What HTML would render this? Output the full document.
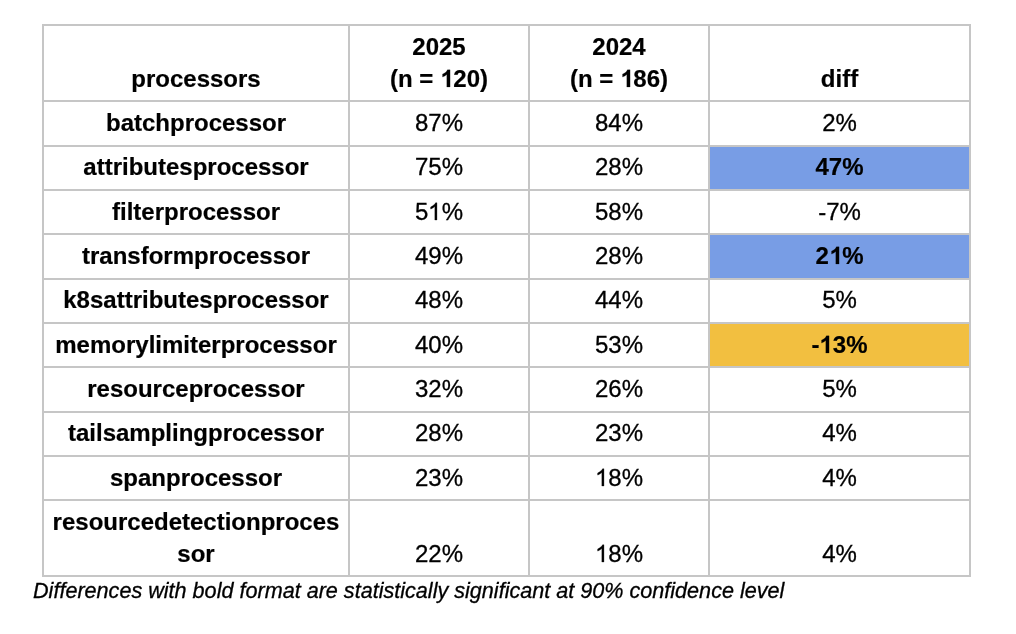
<!DOCTYPE html>
<html><head><meta charset="utf-8"><style>
html,body{margin:0;padding:0;background:#fff;}
body{will-change:transform;width:1016px;height:634px;position:relative;overflow:hidden;font-family:"Liberation Sans",sans-serif;color:#000;}
.t{position:absolute;height:32px;line-height:32px;font-size:24px;text-align:center;white-space:nowrap;}
.hl{position:absolute;left:42px;width:929px;height:2px;background:#c6c6c6;}
.vl{position:absolute;top:24px;height:553px;width:2px;background:#c6c6c6;}
.bg{position:absolute;}
.t,.fn{-webkit-text-stroke:0.3px #000;}
.b{-webkit-text-stroke:0.2px #000;}
.one{color:transparent;-webkit-text-stroke-color:transparent;}
.g1{position:absolute;overflow:visible;}
.fn{position:absolute;font-size:21.6px;line-height:26px;height:26px;font-style:italic;white-space:nowrap;}
</style></head><body>
<div class="bg" style="left:710px;top:147px;width:259px;height:42px;background:#789de5"></div>
<div class="bg" style="left:710px;top:235px;width:259px;height:43px;background:#789de5"></div>
<div class="bg" style="left:710px;top:324px;width:259px;height:42px;background:#f2bf40"></div>
<div class="hl" style="top:24px"></div>
<div class="hl" style="top:100px"></div>
<div class="hl" style="top:145px"></div>
<div class="hl" style="top:189px"></div>
<div class="hl" style="top:233px"></div>
<div class="hl" style="top:278px"></div>
<div class="hl" style="top:322px"></div>
<div class="hl" style="top:366px"></div>
<div class="hl" style="top:411px"></div>
<div class="hl" style="top:455px"></div>
<div class="hl" style="top:499px"></div>
<div class="hl" style="top:575px"></div>
<div class="vl" style="left:42px"></div>
<div class="vl" style="left:348px"></div>
<div class="vl" style="left:528px"></div>
<div class="vl" style="left:708px"></div>
<div class="vl" style="left:969px"></div>
<div class="t b" style="left:44px;width:304px;top:63px;font-weight:bold;">processors</div>
<div class="t b" style="left:350px;width:178px;top:31px;font-weight:bold;">2025</div>
<div class="t b" style="left:350px;width:178px;top:63px;font-weight:bold;">(n = <span class="one">1</span>20)</div>
<div class="t b" style="left:530px;width:178px;top:31px;font-weight:bold;">2024</div>
<div class="t b" style="left:530px;width:178px;top:63px;font-weight:bold;">(n = <span class="one">1</span>86)</div>
<div class="t b" style="left:710px;width:259px;top:63px;font-weight:bold;">diff</div>
<div class="t b" style="left:44px;width:304px;top:107px;font-weight:bold;">batchprocessor</div>
<div class="t" style="left:350px;width:178px;top:107px;">87%</div>
<div class="t" style="left:530px;width:178px;top:107px;">84%</div>
<div class="t" style="left:710px;width:259px;top:107px;">2%</div>
<div class="t b" style="left:44px;width:304px;top:151px;font-weight:bold;">attributesprocessor</div>
<div class="t" style="left:350px;width:178px;top:151px;">75%</div>
<div class="t" style="left:530px;width:178px;top:151px;">28%</div>
<div class="t b" style="left:710px;width:259px;top:151px;font-weight:bold;">47%</div>
<div class="t b" style="left:44px;width:304px;top:196px;font-weight:bold;">filterprocessor</div>
<div class="t" style="left:350px;width:178px;top:196px;">5<span class="one">1</span>%</div>
<div class="t" style="left:530px;width:178px;top:196px;">58%</div>
<div class="t" style="left:710px;width:259px;top:196px;">-7%</div>
<div class="t b" style="left:44px;width:304px;top:240px;font-weight:bold;">transformprocessor</div>
<div class="t" style="left:350px;width:178px;top:240px;">49%</div>
<div class="t" style="left:530px;width:178px;top:240px;">28%</div>
<div class="t b" style="left:710px;width:259px;top:240px;font-weight:bold;">2<span class="one">1</span>%</div>
<div class="t b" style="left:44px;width:304px;top:284px;font-weight:bold;">k8sattributesprocessor</div>
<div class="t" style="left:350px;width:178px;top:284px;">48%</div>
<div class="t" style="left:530px;width:178px;top:284px;">44%</div>
<div class="t" style="left:710px;width:259px;top:284px;">5%</div>
<div class="t b" style="left:44px;width:304px;top:329px;font-weight:bold;">memorylimiterprocessor</div>
<div class="t" style="left:350px;width:178px;top:329px;">40%</div>
<div class="t" style="left:530px;width:178px;top:329px;">53%</div>
<div class="t b" style="left:710px;width:259px;top:329px;font-weight:bold;">-<span class="one">1</span>3%</div>
<div class="t b" style="left:44px;width:304px;top:373px;font-weight:bold;">resourceprocessor</div>
<div class="t" style="left:350px;width:178px;top:373px;">32%</div>
<div class="t" style="left:530px;width:178px;top:373px;">26%</div>
<div class="t" style="left:710px;width:259px;top:373px;">5%</div>
<div class="t b" style="left:44px;width:304px;top:417px;font-weight:bold;">tailsamplingprocessor</div>
<div class="t" style="left:350px;width:178px;top:417px;">28%</div>
<div class="t" style="left:530px;width:178px;top:417px;">23%</div>
<div class="t" style="left:710px;width:259px;top:417px;">4%</div>
<div class="t b" style="left:44px;width:304px;top:462px;font-weight:bold;">spanprocessor</div>
<div class="t" style="left:350px;width:178px;top:462px;">23%</div>
<div class="t" style="left:530px;width:178px;top:462px;"><span class="one">1</span>8%</div>
<div class="t" style="left:710px;width:259px;top:462px;">4%</div>
<div class="t b" style="left:44px;width:304px;top:506px;font-weight:bold;">resourcedetectionproces</div>
<div class="t b" style="left:44px;width:304px;top:538px;font-weight:bold;">sor</div>
<div class="t" style="left:350px;width:178px;top:538px;">22%</div>
<div class="t" style="left:530px;width:178px;top:538px;"><span class="one">1</span>8%</div>
<div class="t" style="left:710px;width:259px;top:538px;">4%</div>
<div class="fn" style="left:33px;top:578px;">Differences with bold format are statistically significant at 90% confidence level</div>
<svg class="g1" style="left:439.9844px;top:67px" width="16" height="24" viewBox="0 -1706.67 1365.33 2048.00"><path transform="scale(1,-1)" d="M861 0L580 0L580 1059Q426 915 217 846L217 1101Q327 1137 456 1237Q585 1337 633 1466L861 1466Z" fill="#000" stroke="#000" stroke-width="17.1"/></svg>
<svg class="g1" style="left:619.9844px;top:67px" width="16" height="24" viewBox="0 -1706.67 1365.33 2048.00"><path transform="scale(1,-1)" d="M861 0L580 0L580 1059Q426 915 217 846L217 1101Q327 1137 456 1237Q585 1337 633 1466L861 1466Z" fill="#000" stroke="#000" stroke-width="17.1"/></svg>
<svg class="g1" style="left:428.3281px;top:200px" width="16" height="24" viewBox="0 -1706.67 1365.33 2048.00"><path transform="scale(1,-1)" d="M763 0L583 0L583 1147Q518 1085 412 1023Q306 961 222 930L222 1104Q373 1175 486 1276Q599 1377 646 1472L763 1472Z" fill="#000" stroke="#000" stroke-width="25.6"/></svg>
<svg class="g1" style="left:828.8281px;top:244px" width="16" height="24" viewBox="0 -1706.67 1365.33 2048.00"><path transform="scale(1,-1)" d="M861 0L580 0L580 1059Q426 915 217 846L217 1101Q327 1137 456 1237Q585 1337 633 1466L861 1466Z" fill="#000" stroke="#000" stroke-width="17.1"/></svg>
<svg class="g1" style="left:819.4688px;top:333px" width="16" height="24" viewBox="0 -1706.67 1365.33 2048.00"><path transform="scale(1,-1)" d="M861 0L580 0L580 1059Q426 915 217 846L217 1101Q327 1137 456 1237Q585 1337 633 1466L861 1466Z" fill="#000" stroke="#000" stroke-width="17.1"/></svg>
<svg class="g1" style="left:594.9688px;top:466px" width="16" height="24" viewBox="0 -1706.67 1365.33 2048.00"><path transform="scale(1,-1)" d="M763 0L583 0L583 1147Q518 1085 412 1023Q306 961 222 930L222 1104Q373 1175 486 1276Q599 1377 646 1472L763 1472Z" fill="#000" stroke="#000" stroke-width="25.6"/></svg>
<svg class="g1" style="left:594.9688px;top:542px" width="16" height="24" viewBox="0 -1706.67 1365.33 2048.00"><path transform="scale(1,-1)" d="M763 0L583 0L583 1147Q518 1085 412 1023Q306 961 222 930L222 1104Q373 1175 486 1276Q599 1377 646 1472L763 1472Z" fill="#000" stroke="#000" stroke-width="25.6"/></svg>
</body></html>
